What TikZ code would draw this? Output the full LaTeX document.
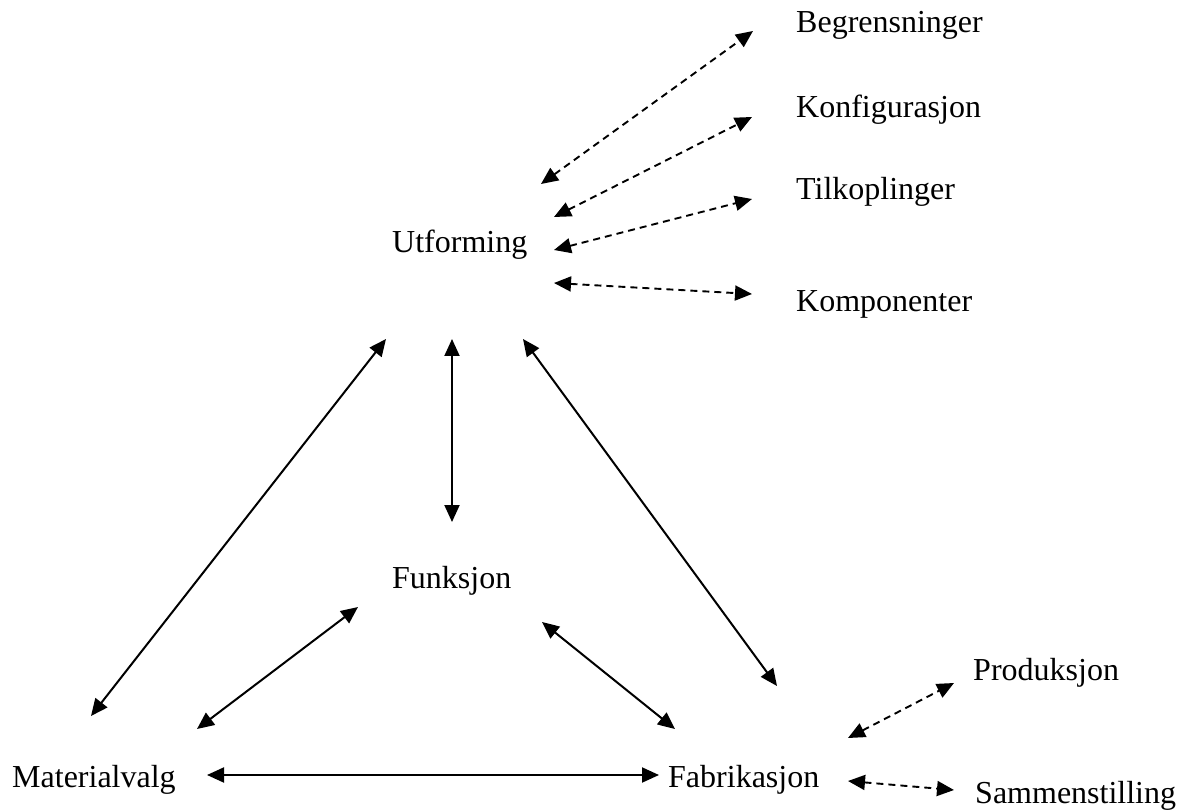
\documentclass[tikz,border=0pt]{standalone}
\usepackage{fontspec}
\setmainfont{Liberation Serif}
\usetikzlibrary{arrows.meta}
\begin{document}
\begin{tikzpicture}[x=1pt,y=-1pt,
  lbl/.style={inner sep=0pt,anchor=base west,font=\fontsize{32}{38}\selectfont},
  link/.style={line width=2pt,{Triangle[length=17pt,width=15pt]}-{Triangle[length=17pt,width=15pt]}},
  dlink/.style={link,line width=1.9pt,dash pattern=on 7pt off 5pt}]
\useasboundingbox (0,0) rectangle (1179,810);

% labels
\node[lbl] (beg) at (796,33)  {Begrensninger};
\node[lbl] (kon) at (796,118) {Konfigurasjon};
\node[lbl] (til) at (796,200) {Tilkoplinger};
\node[lbl] (kom) at (796,312) {Komponenter};
\node[lbl] (ut)  at (392,253) {Utforming};
\node[lbl] (fun) at (392,588) {Funksjon};
\node[lbl] (mat) at (12,787)  {Materialvalg};
\node[lbl] (fab) at (668,787) {Fabrikasjon};
\node[lbl] (pro) at (973,680) {Produksjon};
\node[lbl] (sam) at (975,803) {Sammenstilling};

% dashed links of Utforming
\draw[dlink] ([shift={(149,-69)}]ut.base west) -- ([shift={(-43,-2)}]beg.base west);
\draw[dlink] ([shift={(162,-36)}]ut.base west) -- ([shift={(-44,-1)}]kon.base west);
\draw[dlink] ([shift={(162,-3)}]ut.base west)  -- ([shift={(-44,-1)}]til.base west);
\draw[dlink] ([shift={(162,30)}]ut.base west)  -- ([shift={(-44,-18)}]kom.base west);

% dashed links of Fabrikasjon
\draw[dlink] ([shift={(180,-49)}]fab.base west) -- ([shift={(-19,3)}]pro.base west);
\draw[dlink] ([shift={(180,-6)}]fab.base west)  -- ([shift={(-21,-13)}]sam.base west);

% solid links of the triangle
\draw[link] ([shift={(-6,86)}]ut.base west)  -- ([shift={(79,-71)}]mat.base west);
\draw[link] ([shift={(60,86)}]ut.base west)  -- ([shift={(60,-66)}]fun.base west);
\draw[link] ([shift={(131,86)}]ut.base west) -- ([shift={(109,-101)}]fab.base west);
\draw[link] ([shift={(-34,19)}]fun.base west) -- ([shift={(185,-58)}]mat.base west);
\draw[link] ([shift={(150,34)}]fun.base west) -- ([shift={(7,-58)}]fab.base west);
\draw[link] ([shift={(195,-12)}]mat.base west) -- ([shift={(-9,-12)}]fab.base west);
\end{tikzpicture}
\end{document}
